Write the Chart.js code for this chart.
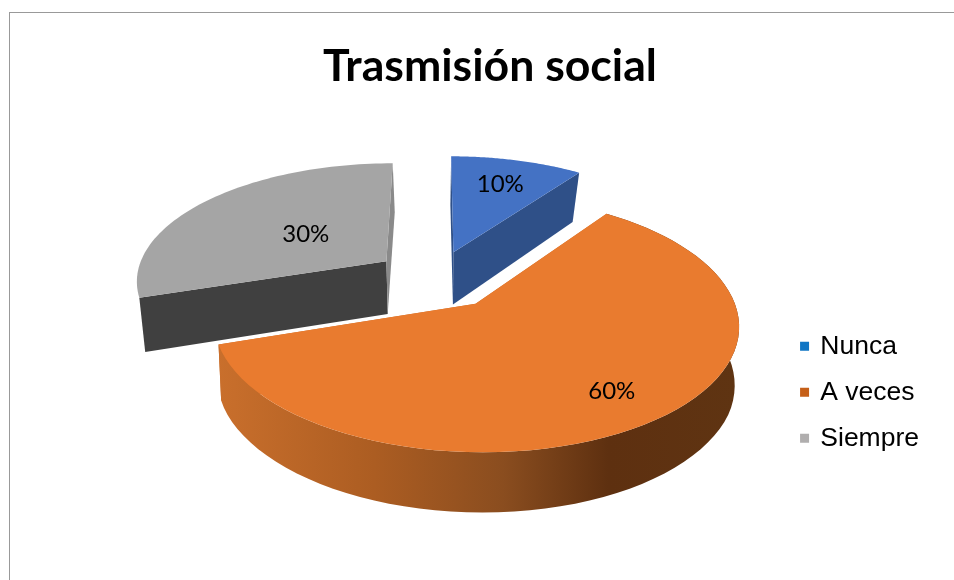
<!DOCTYPE html>
<html>
<head>
<meta charset="utf-8">
<script src="https://cdn.jsdelivr.net/npm/chart.js@4"></script>
<style>
    html, body { margin: 0; padding: 0; background: #fff; width: 954px; height: 580px; overflow: hidden; }
    #frame { position: absolute; left: 9px; top: 12px; width: 960px; height: 580px; border: 1px solid #999; }
    #box { position: absolute; left: 0; top: 0; width: 954px; height: 580px; }
</style>
</head>
<body>
<div id="frame"></div>
<div id="box"><canvas id="chart"></canvas></div>
<script>
const categories = ['Nunca', 'A veces', 'Siempre'];
const shares = [10, 60, 30];
const topColors = ['#4472c4', '#e97b2f', '#a5a5a5'];
const wallColors = ['#2f5088', '#c96f2c', '#404040'];
const legendColors = ['#0f75c4', '#c55f18', '#b0aeae'];

// where each % label sits along the slice radius (0 = tip, 1 = rim)
const labelReach = [0.71, 0.78, 0.43];
const explodeBy = [60, 66, 62];
const drawOrder = [0, 2, 1];

// fake 3D view of the pie
const view = { cx: 435.5, cy: 278, radius: 251, tilt: 0.468, persp: 0.0006, depth: 55, shrink: 0.03 };

function project(u, v, z) {
    const w = 1 - view.persp * v;
    // the base pulls in less sideways on the near side than on the far side
    const pull = Math.max(0.01, 0.024 - 0.00009 * v);
    return {
        x: view.cx + u / (w * (1 + pull * z)),
        y: view.cy + (view.tilt * v + view.depth * z) / (w * (1 + view.shrink * z)),
    };
}

function slicePoint(arc, index, angle, reach, z) {
    const mid = (arc.startAngle + arc.endAngle) / 2;
    const u = Math.cos(mid) * explodeBy[index] + Math.cos(angle) * reach * view.radius;
    const v = Math.sin(mid) * explodeBy[index] + Math.sin(angle) * reach * view.radius;
    return project(u, v, z);
}

function fillPoly(ctx, points, fill) {
    ctx.beginPath();
    points.forEach((p, i) => i ? ctx.lineTo(p.x, p.y) : ctx.moveTo(p.x, p.y));
    ctx.closePath();
    ctx.fillStyle = fill;
    ctx.fill();
}

function rimPoints(arc, index, z) {
    const pts = [];
    for (let i = 0; i <= 72; i++) {
        pts.push(slicePoint(arc, index, arc.startAngle + (arc.endAngle - arc.startAngle) * i / 72, 1, z));
    }
    return pts;
}

const pie3d = {
    id: 'pie3d',
    afterLayout(chart) {
        // title sits right of the canvas middle in the original
        chart.titleBlock.left += 51;
    },
    beforeDatasetsDraw(chart) {
        const ctx = chart.ctx;
        const arcs = chart.getDatasetMeta(0).data;
        drawOrder.forEach(i => {
            const arc = arcs[i];
            const topRim = rimPoints(arc, i, 0);
            const lowRim = rimPoints(arc, i, 1);
            const tipTop = slicePoint(arc, i, arc.startAngle, 0, 0);
            const tipLow = slicePoint(arc, i, arc.startAngle, 0, 1);

            // the two flat cut faces
            fillPoly(ctx, [tipTop, topRim[0], lowRim[0], tipLow], wallColors[i]);
            fillPoly(ctx, [tipTop, topRim[72], lowRim[72], tipLow], i === 2 ? '#8a8a8a' : wallColors[i]);

            // only the big slice shows its outer wall, fades to dark brown going right
            if (i === 1) {
                const wall = ctx.createLinearGradient(218, 0, 738, 0);
                wall.addColorStop(0, '#c96f2c');
                wall.addColorStop(0.3, '#ac5d22');
                wall.addColorStop(0.55, '#8a4d1f');
                wall.addColorStop(0.75, '#5e3010');
                wall.addColorStop(1, '#5f3412');
                fillPoly(ctx, topRim.concat(lowRim.slice().reverse()), wall);
            }

            fillPoly(ctx, [tipTop].concat(topRim), topColors[i]);
        });
        return false;
    },
    afterDraw(chart) {
        const ctx = chart.ctx;
        const arcs = chart.getDatasetMeta(0).data;
        ctx.save();
        ctx.font = '24px Lato';
        ctx.fillStyle = '#000';
        ctx.textAlign = 'center';
        ctx.textBaseline = 'middle';
        arcs.forEach((arc, i) => {
            const p = slicePoint(arc, i, (arc.startAngle + arc.endAngle) / 2, labelReach[i], 0);
            ctx.fillText(shares[i] + '%', p.x, p.y);
        });
        ctx.restore();
    },
};

new Chart(document.getElementById('chart'), {
    type: 'pie',
    data: {
        labels: categories,
        datasets: [{ data: shares, backgroundColor: topColors, borderWidth: 0 }],
    },
    plugins: [pie3d],
    options: {
        responsive: true,
        maintainAspectRatio: false,
        animation: false,
        layout: { padding: { top: 12, right: 25, bottom: 109 } },
        plugins: {
            tooltip: { enabled: false },
            title: {
                display: true,
                text: 'Trasmisión social',
                color: '#000',
                font: { family: 'Lato', size: 44.6, weight: 'bold' },
                padding: { top: 28, bottom: 10 },
            },
            legend: {
                position: 'right',
                align: 'end',
                labels: {
                    color: '#000',
                    font: { family: 'Liberation Sans', size: 26.5 },
                    boxWidth: 5,
                    boxHeight: 5,
                    padding: 19.5,
                    generateLabels() {
                        return categories.map((name, i) => ({
                            text: name,
                            fillStyle: legendColors[i],
                            strokeStyle: legendColors[i],
                            lineWidth: 4,
                            index: i,
                        }));
                    },
                },
            },
        },
    },
});
</script>
</body>
</html>
